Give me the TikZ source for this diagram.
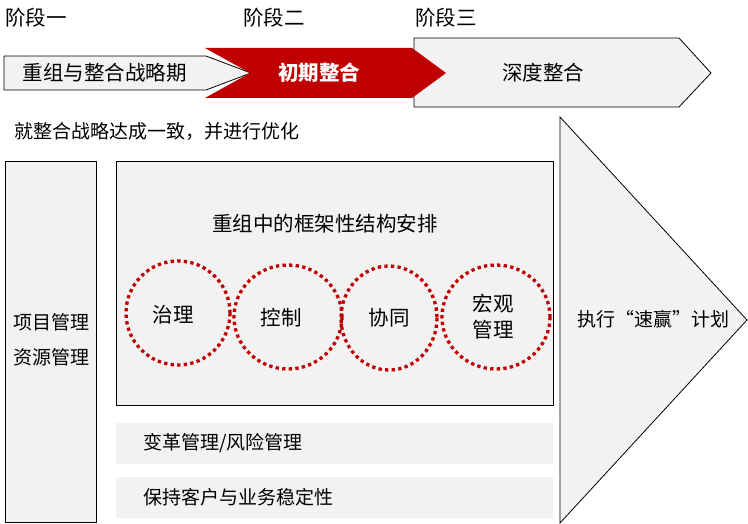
\documentclass[tikz,border=0pt]{standalone}
\usepackage{fontspec}
\setmainfont{Noto Sans CJK SC}
\definecolor{panel}{HTML}{F2F2F2}
\definecolor{deepred}{HTML}{C00000}
\tikzset{
  panelshape/.style={fill=panel, draw=black, line width=0.8pt},
  dotring/.style={draw=deepred, line width=3.3pt, dash pattern=on 3.3pt off 3.3pt},
  bigtxt/.style={font=\fontsize{20.5}{24}\selectfont, inner sep=0pt},
  midtxt/.style={font=\fontsize{19}{23}\selectfont, inner sep=0pt},
}
\begin{document}
\begin{tikzpicture}[x=1pt, y=-1pt]
\useasboundingbox (0,0) rectangle (748,524);
% stage labels
\node[bigtxt, anchor=west] (s1) at (5,18) {阶段一};
\node[bigtxt, anchor=west] (s2) at (243,18) {阶段二};
\node[bigtxt, anchor=west] (s3) at (415,18) {阶段三};
% arrow 3 (deep integration)
\draw[panelshape] (414,38) -- (679,38) -- (711,73) -- (679,107) -- (414,107) -- cycle;
% arrow 1
\draw[panelshape] (4,56) -- (206,56) -- (251,73) -- (206,90) -- (4,90) -- cycle;
% arrow 2 (red)
\fill[deepred] (205,48) -- (412,48) -- (446,73) -- (412,98) -- (205,98) -- (250,73) -- cycle;
\node[bigtxt] (a1) at (105,73) {重组与整合战略期};
\node[bigtxt, text=white, font=\fontsize{20.5}{24}\selectfont\bfseries] (a2) at (319,73) {初期整合};
\node[bigtxt] (a3) at (543,73) {深度整合};
% consensus text
\node[midtxt, anchor=west] (cons) at (14,131) {就整合战略达成一致，并进行优化};
% left column
\draw[panelshape] (5,161) rectangle (96,522);
\node[midtxt] (pm) at (51,322) {项目管理};
\node[midtxt] (rm) at (51,357) {资源管理};
% main box
\draw[panelshape] (116,161) rectangle (553,405);
\node[bigtxt] (title) at (325,224) {重组中的框架性结构安排};
% rings
\draw[dotring] (178,313) ellipse [x radius=52, y radius=52];
\draw[dotring] (288,317) ellipse [x radius=54, y radius=52];
\draw[dotring] (389,318) ellipse [x radius=48, y radius=52];
\draw[dotring] (496,317) ellipse [x radius=54, y radius=52];
\node[bigtxt] (c1) at (173,315) {治理};
\node[bigtxt] (c2) at (281,318) {控制};
\node[bigtxt] (c3) at (389,318) {协同};
\node[bigtxt, align=center, font=\fontsize{20.5}{26}\selectfont] (c4) at (493,317) {宏观\\管理};
% bottom bars
\fill[panel] (116,423) rectangle (553,464);
\fill[panel] (116,477) rectangle (553,518);
\node[midtxt, anchor=west] (b1) at (143,443) {变革管理/风险管理};
\node[midtxt, anchor=west] (b2) at (143,497) {保持客户与业务稳定性};
% big triangle
\draw[panelshape] (560,117) -- (747,320) -- (560,523) -- cycle;
\node[midtxt] (tri) at (653,319) {执行“速赢”计划};
\end{tikzpicture}
\end{document}
